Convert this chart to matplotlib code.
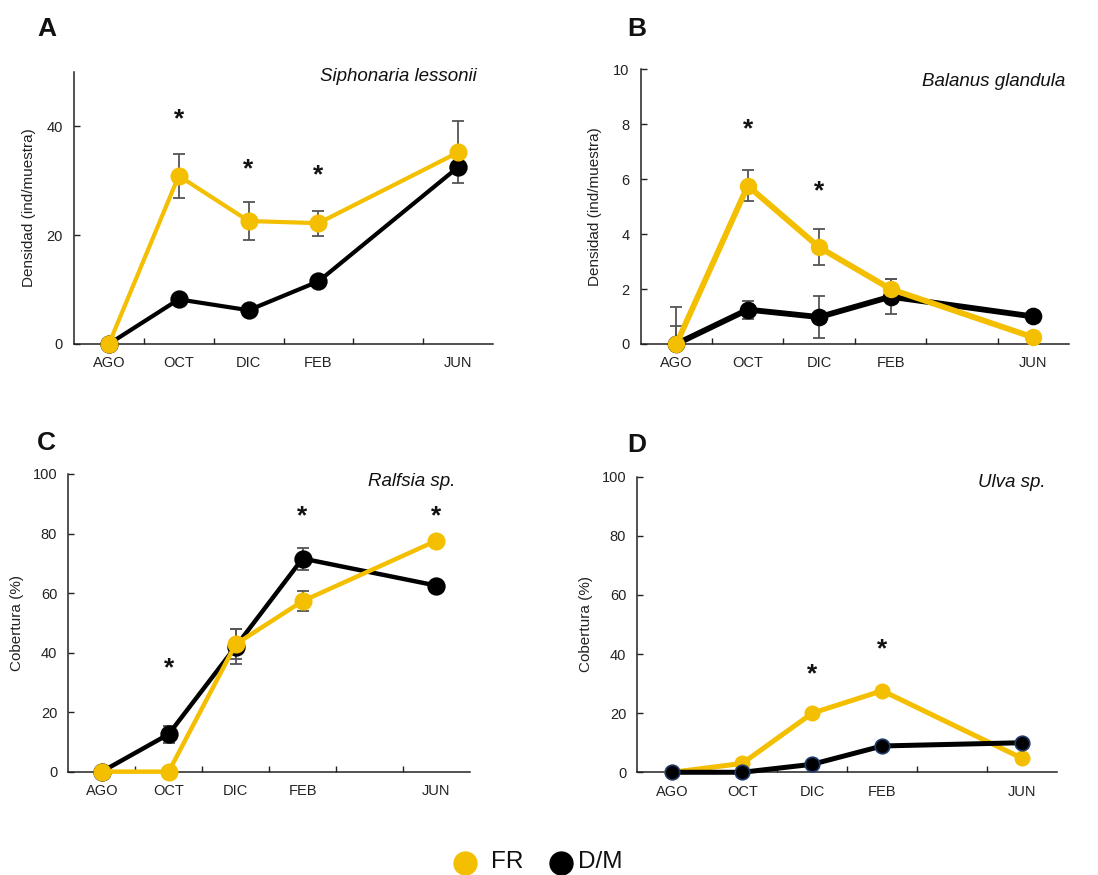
import matplotlib
matplotlib.use("Agg")
import matplotlib.pyplot as plt
from matplotlib.lines import Line2D
import numpy as np

plt.rcParams['font.family'] = ['Liberation Sans', 'DejaVu Sans']

# Sampling months and their slot on the category axis (slot 4 = ABR, not sampled)
months = ["AGO", "OCT", "DIC", "FEB", "JUN"]
month_slot = [0, 1, 2, 3, 5]
n_slots = 6

# A - Siphonaria lessonii, density (ind/muestra)
sipho_fr = [0.0, 30.9, 22.6, 22.2, 35.2]
sipho_fr_err = [0.0, 4.1, 3.5, 2.3, 5.7]
sipho_dm = [0.0, 8.2, 6.2, 11.5, 32.5]
sipho_dm_err = [0.0, 0.0, 0.0, 0.0, 0.0]
sipho_sig = [None, 42.8, 33.6, 32.4, None]

# B - Balanus glandula, density (ind/muestra)
bala_fr = [0.0, 5.76, 3.52, 2.0, 0.24]
bala_fr_err = [0.67, 0.56, 0.65, 0.35, 0.0]
bala_dm = [0.0, 1.25, 0.98, 1.72, 1.0]
bala_dm_err = [1.33, 0.33, 0.77, 0.63, 0.0]
bala_sig = [None, 8.1, 5.85, None, None]

# C - Ralfsia sp., cover (%)
ralf_fr = [0.0, 0.0, 42.8, 57.3, 77.6]
ralf_fr_err = [0.0, 0.0, 5.0, 3.4, 0.0]
ralf_dm = [0.0, 12.6, 42.0, 71.6, 62.5]
ralf_dm_err = [0.0, 2.9, 6.0, 3.7, 0.0]
ralf_sig = [None, 37.3, None, 88.5, 88.5]

# D - Ulva sp., cover (%)
ulva_fr = [0.0, 3.0, 20.0, 27.6, 4.7]
ulva_fr_err = [0.0, 0.0, 0.0, 0.0, 0.0]
ulva_dm = [0.0, 0.0, 2.7, 8.9, 10.0]
ulva_dm_err = [0.0, 0.0, 0.0, 0.0, 0.0]
ulva_sig = [None, None, 35.9, 44.2, None]

FR_COLOR = "#F3BF00"
DM_COLOR = "#000000"
ERR_COLOR = "#555555"
AXIS_COLOR = "#222222"
STAR_SIZE = 19

fig = plt.figure(figsize=(10.98, 8.75), dpi=100)

panels = [
    dict(rect=[0.0674, 0.6069, 0.3816, 0.3109], ylim=(0, 50), yticks=[0, 20, 40],
         ylabel="Densidad (ind/muestra)", lab_x=-0.091, species="Siphonaria lessonii",
         sp_xy=(0.962, 0.985), letter="A", letter_xy=(46.5, 29),
         fr=sipho_fr, fr_err=sipho_fr_err, dm=sipho_dm, dm_err=sipho_dm_err, sig=sipho_sig,
         lw=3.0, ms=12, dm_edge=DM_COLOR, dm_on_top=False),
    dict(rect=[0.5835, 0.6069, 0.3901, 0.3139], ylim=(0, 10), yticks=[0, 2, 4, 6, 8, 10],
         ylabel="Densidad (ind/muestra)", lab_x=-0.090, species="Balanus glandula",
         sp_xy=(0.991, 0.954), letter="B", letter_xy=(637, 29),
         fr=bala_fr, fr_err=bala_fr_err, dm=bala_dm, dm_err=bala_dm_err, sig=bala_sig,
         lw=4.2, ms=11.5, dm_edge=DM_COLOR, dm_on_top=False),
    dict(rect=[0.0622, 0.1181, 0.3658, 0.3402], ylim=(0, 100), yticks=[0, 20, 40, 60, 80, 100],
         ylabel="Cobertura (%)", lab_x=-0.110, species="Ralfsia sp.",
         sp_xy=(0.963, 0.974), letter="C", letter_xy=(46.5, 443),
         fr=ralf_fr, fr_err=ralf_fr_err, dm=ralf_dm, dm_err=ralf_dm_err, sig=ralf_sig,
         lw=3.2, ms=12, dm_edge=DM_COLOR, dm_on_top=False),
    dict(rect=[0.5804, 0.1174, 0.3825, 0.3378], ylim=(0, 100), yticks=[0, 20, 40, 60, 80, 100],
         ylabel="Cobertura (%)", lab_x=-0.105, species="Ulva sp.",
         sp_xy=(0.972, 0.979), letter="D", letter_xy=(637, 445),
         fr=ulva_fr, fr_err=ulva_fr_err, dm=ulva_dm, dm_err=ulva_dm_err, sig=ulva_sig,
         lw=3.6, ms=10.5, dm_edge="#1F3A6E", dm_on_top=True),
]

W, H = 1098.0, 875.0

for p in panels:
    ax = fig.add_axes(p["rect"])
    x = np.array(month_slot, dtype=float)

    # error bars sit behind the lines and markers
    ax.errorbar(x, p["dm"], yerr=p["dm_err"], fmt="none", ecolor=ERR_COLOR,
                elinewidth=1.3, capsize=4.5, capthick=1.3, zorder=2, clip_on=True)
    ax.errorbar(x, p["fr"], yerr=p["fr_err"], fmt="none", ecolor=ERR_COLOR,
                elinewidth=1.3, capsize=4.5, capthick=1.3, zorder=2, clip_on=True)

    z_dm, z_fr = (5, 4) if p["dm_on_top"] else (4, 5)
    ax.plot(x, p["dm"], color=DM_COLOR, lw=p["lw"], marker="o", ms=p["ms"],
            mfc=DM_COLOR, mec=p["dm_edge"], mew=1.2, zorder=z_dm, clip_on=False,
            solid_capstyle="round")
    ax.plot(x, p["fr"], color=FR_COLOR, lw=p["lw"], marker="o", ms=p["ms"],
            mfc=FR_COLOR, mec=FR_COLOR, zorder=z_fr, clip_on=False,
            solid_capstyle="round")

    # significance marks: the asterisk glyph sits high in its box, so anchor on
    # the baseline and shift down so the glyph is centred on the value
    for xi, s in zip(x, p["sig"]):
        if s is not None:
            ax.annotate("*", xy=(xi, s), xytext=(0, -0.57 * STAR_SIZE),
                        textcoords="offset points", ha="center", va="baseline",
                        fontsize=STAR_SIZE, fontweight="bold", color="#111111",
                        zorder=6)

    ax.set_xlim(-0.5, n_slots - 0.5)
    ax.set_ylim(*p["ylim"])
    ax.set_yticks(p["yticks"])
    ax.set_xticks(month_slot)
    ax.set_xticklabels(months)
    ax.set_xticks(np.arange(0.5, n_slots - 0.5, 1.0), minor=True)
    ax.tick_params(axis="x", which="major", length=0, pad=9, labelsize=10.5,
                   labelcolor=AXIS_COLOR)
    ax.tick_params(axis="x", which="minor", direction="in", length=4.5,
                   width=1.0, color=AXIS_COLOR)
    ax.tick_params(axis="y", direction="in", length=4, width=1.0, color=AXIS_COLOR,
                   pad=8, labelsize=10.5, labelcolor=AXIS_COLOR)

    for side in ("top", "right"):
        ax.spines[side].set_visible(False)
    for side in ("left", "bottom"):
        ax.spines[side].set_color(AXIS_COLOR)
        ax.spines[side].set_linewidth(1.1)

    ax.set_ylabel(p["ylabel"], fontsize=11, color=AXIS_COLOR)
    ax.yaxis.set_label_coords(p["lab_x"], 0.5)

    ax.text(p["sp_xy"][0], p["sp_xy"][1], p["species"], transform=ax.transAxes,
            ha="right", va="center", fontsize=13.5, style="italic", color="#111111")

    lx, ly = p["letter_xy"]
    fig.text(lx / W, 1 - ly / H, p["letter"], ha="center", va="center",
             fontsize=19, fontweight="bold", color="#111111")

# shared legend at the bottom
legend_items = [("FR", FR_COLOR, 465, 491), ("D/M", DM_COLOR, 561, 578)]
for label, col, mx, tx in legend_items:
    fig.add_artist(Line2D([mx / W], [1 - 863 / H], transform=fig.transFigure,
                          marker="o", ms=16.5, mfc=col, mec=col, lw=0))
    fig.text(tx / W, 1 - 862 / H, label, ha="left", va="center", fontsize=17.5,
             color="#111111")

fig.savefig("out.png", dpi=100, facecolor="white")
